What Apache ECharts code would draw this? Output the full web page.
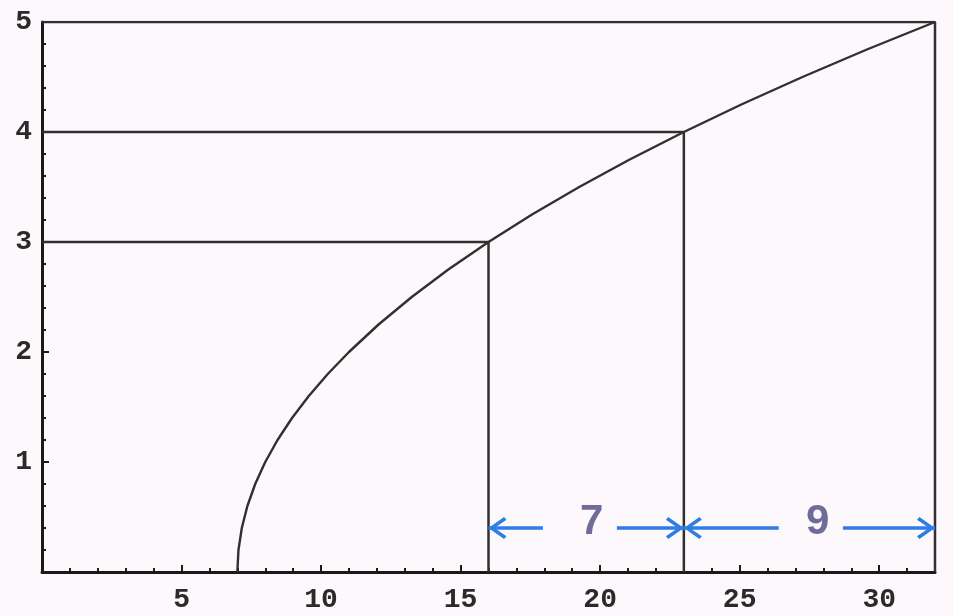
<!DOCTYPE html>
<html>
<head>
<meta charset="utf-8">
<script src="https://cdn.jsdelivr.net/npm/echarts@6/dist/echarts.min.js"></script>
<style>
  html, body { margin: 0; padding: 0; background: #fcf8fc; }
  #main { width: 953px; height: 616px; }
</style>
</head>
<body>
<div id="main"></div>
<script>
var dom = document.getElementById("main");
var chart = echarts.init(dom);

// curve points
var curveX = [7, 7.04, 7.16, 7.36, 7.64, 8, 8.44, 8.96, 9.56, 10.24, 11, 12.06, 13.25, 14.56, 16, 17.56, 19.25, 21.06, 23, 25.06, 27.25, 29.56, 32];
var curveY = [0, 0.2, 0.4, 0.6, 0.8, 1, 1.2, 1.4, 1.6, 1.8, 2, 2.25, 2.5, 2.75, 3, 3.25, 3.5, 3.75, 4, 4.25, 4.5, 4.75, 5];

// drop lines: horizontal from the y axis to the curve, then down to the x axis
var dropX = [16, 23, 32];
var dropY = [3, 4, 5];

// width arrows between the drop lines
var arrowY = 0.4;
var gapLabels = ['7', '9'];
var gapFrom = [16, 23];
var gapTo = [23, 32];
var gapTextX = [19.7, 27.8];
var arrowInner = [[17.95, 20.6], [26.4, 28.7]];

var lineColor = '#303030';
var blue = '#2f7de4';

var curveData = [];
for (let i = 0; i < curveX.length; i++) {
    curveData.push([curveX[i], curveY[i]]);
}

var series = [];
series.push({
    type: 'line',
    data: curveData,
    showSymbol: false,
    smooth: false,
    lineStyle: { color: lineColor, width: 2.4 },
    silent: true
});

for (let i = 0; i < dropX.length; i++) {
    series.push({
        type: 'line',
        data: [[0, dropY[i]], [dropX[i], dropY[i]], [dropX[i], 0]],
        showSymbol: false,
        lineStyle: { color: lineColor, width: 2.5 },
        silent: true
    });
}

// open chevron pointing up, tip at the centre of its box (the second sub-path only widens the box)
var chevron = 'path://M12,0 L24,16 L21,18.5 L12,6 L3,18.5 L0,16 Z M12,-18.5 L12.02,-18.5 L12,-18.48 Z';

var arrowLines = [];
for (let i = 0; i < gapLabels.length; i++) {
    arrowLines.push([{ coord: [arrowInner[i][0], arrowY] }, { coord: [gapFrom[i], arrowY] }]);
    arrowLines.push([{ coord: [arrowInner[i][1], arrowY] }, { coord: [gapTo[i], arrowY] }]);
}

var gapData = [];
for (let i = 0; i < gapLabels.length; i++) {
    gapData.push([gapTextX[i], arrowY]);
}

series.push({
    type: 'scatter',
    data: gapData,
    symbolSize: 0,
    silent: true,
    label: {
        show: true,
        position: 'inside',
        offset: [0, -6],
        formatter: function (p) { return gapLabels[p.dataIndex]; },
        fontFamily: 'Liberation Sans',
        fontWeight: 'bold',
        fontSize: 42,
        color: '#4a4a80'
    },
    markLine: {
        silent: true,
        symbol: ['none', chevron],
        symbolSize: [22, 36],
        label: { show: false },
        lineStyle: { color: blue, width: 3.5, type: 'solid' },
        data: arrowLines
    }
});

var option = {
    backgroundColor: '#fcf8fc',
    animation: false,
    grid: {
        left: 42,
        right: 18,
        top: 22,
        bottom: 44
    },
    xAxis: {
        type: 'value',
        min: 0,
        max: 32,
        interval: 5,
        splitLine: { show: false },
        axisLine: { lineStyle: { color: '#1a1a1a', width: 3 } },
        axisTick: { inside: true, length: 7, lineStyle: { color: '#1a1a1a', width: 2 } },
        minorTick: { show: true, splitNumber: 5, length: 4, lineStyle: { color: '#1a1a1a', width: 2 } },
        axisLabel: {
            margin: 14,
            fontFamily: 'Liberation Mono',
            fontWeight: 'bold',
            fontSize: 28,
            color: '#2a2a2a',
            showMaxLabel: false,
            formatter: function (v) { return v === 0 ? '' : String(v); }
        }
    },
    yAxis: {
        type: 'value',
        min: 0,
        max: 5,
        interval: 1,
        splitLine: { show: false },
        axisLine: { show: true, lineStyle: { color: '#1a1a1a', width: 3 } },
        axisTick: { show: true, inside: true, length: 7, lineStyle: { color: '#1a1a1a', width: 2 } },
        minorTick: { show: true, splitNumber: 5, length: 4, lineStyle: { color: '#1a1a1a', width: 2 } },
        axisLabel: {
            margin: 10,
            fontFamily: 'Liberation Mono',
            fontWeight: 'bold',
            fontSize: 28,
            color: '#2a2a2a',
            formatter: function (v) { return v === 0 ? '' : String(v); }
        }
    },
    series: series
};

chart.setOption(option);
</script>
</body>
</html>
